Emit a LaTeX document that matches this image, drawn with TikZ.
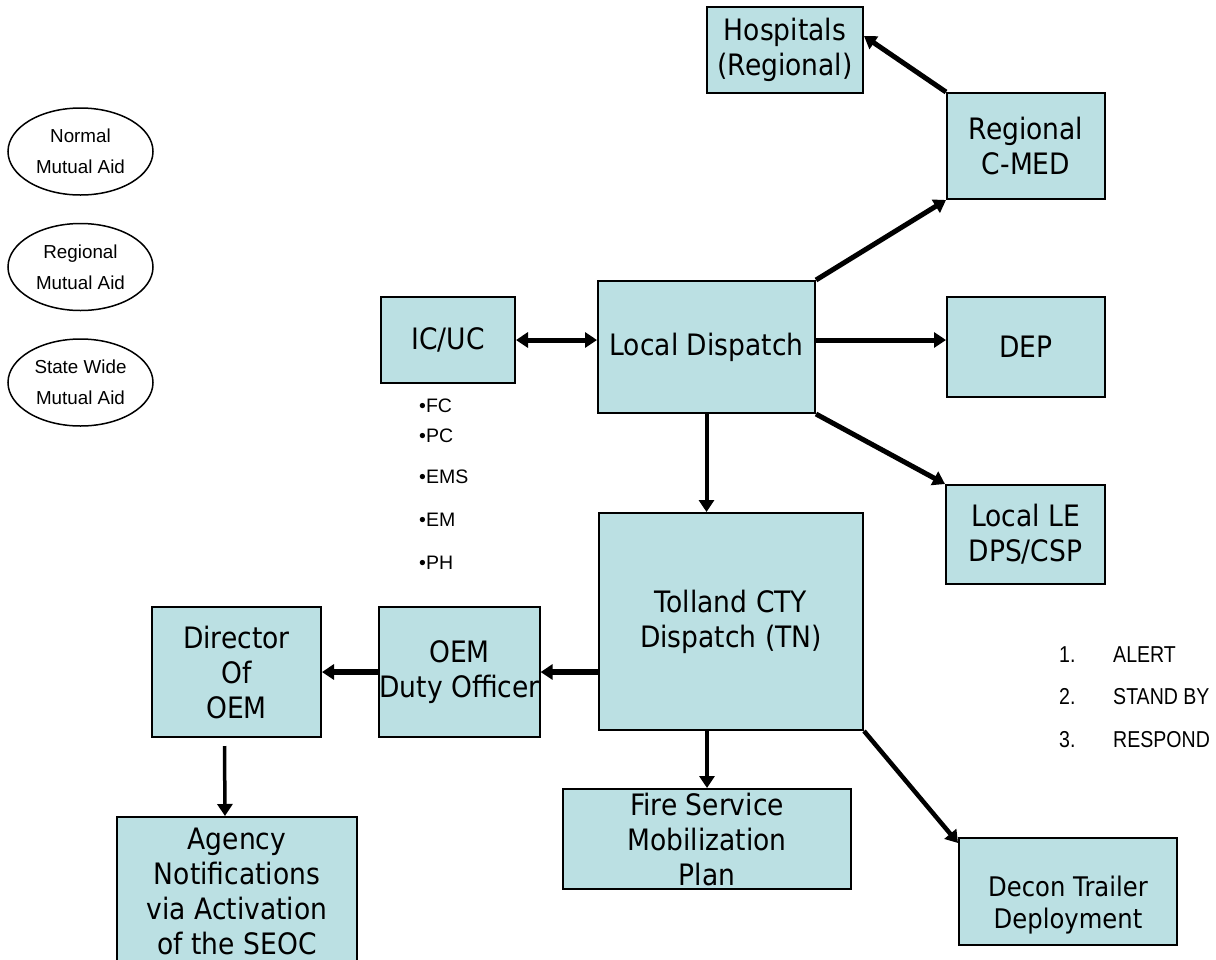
\documentclass[tikz,border=0pt]{standalone}
\usepackage{fontspec}
\setmainfont{Liberation Sans}
\newfontfamily\boxfont[FakeStretch=0.9]{DejaVu Sans}
\newfontfamily\narrowfont[FakeStretch=0.85]{Liberation Sans}
\usetikzlibrary{arrows.meta}
\usetikzlibrary{shapes.geometric}
\usetikzlibrary{positioning}
\definecolor{boxfill}{HTML}{BBE0E3}

\begin{document}
\begin{tikzpicture}[x=1pt, y=-1pt,
    box/.style={draw, line width=2pt, fill=boxfill, inner sep=0pt, align=center,
      font=\boxfont\fontsize{29.5}{35}\selectfont},
    aid/.style={draw, ellipse, line width=1.5pt, inner sep=0pt, minimum width=145pt,
      minimum height=87pt, align=center, font=\fontsize{18.8}{31}\selectfont},
    link/.style={line width=5pt, -{Triangle[length=12pt, width=15pt]}},
    listtext/.style={anchor=base west, inner sep=0pt, font=\narrowfont\fontsize{23}{28}\selectfont}]
  \clip (0,0) rectangle (1216,959);

  \node[aid] (normal)    at (80.5,151.5) {Normal\\Mutual Aid};
  \node[aid] (regional)  at (80.5,267)   {Regional\\Mutual Aid};
  \node[aid] (statewide) at (80.5,382.5) {State Wide\\Mutual Aid};

  \node[box, minimum width=156pt, minimum height=86pt]  (hosp)     at (785,50)       {Hospitals\\(Regional)};
  \node[box, minimum width=158pt, minimum height=106pt] (cmed)     at (1026,146)     {Regional\\C-MED};
  \node[box, minimum width=158pt, minimum height=100pt] (dep)      at (1026,347)     {DEP};
  \node[box, minimum width=217pt, minimum height=132pt] (ld)       at (706.5,347)    {Local Dispatch};
  \node[box, minimum width=134pt, minimum height=86pt]  (icuc)     at (448,340)      {IC/UC};
  \node[box, minimum width=159pt, minimum height=99pt]  (locle)    at (1025.5,534.5) {Local LE\\DPS/CSP};
  \node[box, minimum width=264pt, minimum height=217pt] (tolland)  at (731,621.5)    {Tolland CTY\\Dispatch (TN)};
  \node[box, minimum width=157pt, minimum height=130pt] (oem)      at (459.5,672)    {OEM\\Duty Officer};
  \node[box, minimum width=169pt, minimum height=130pt] (director) at (236.5,672)    {Director\\Of\\OEM};
  \node[box, minimum width=288pt, minimum height=100pt] (fire)     at (707,839)      {Fire Service\\Mobilization\\Plan};
  \node[box, minimum width=240pt, minimum height=148pt] (agency)   at (237,891)      {Agency\\Notifications\\via Activation\\of the SEOC};
  \node[box, minimum width=218pt, minimum height=107pt] (decon)    at (1068,891.5)   {};
  \node[align=center, inner sep=0pt, font=\boxfont\fontsize{27}{32}\selectfont] (decontext)
    at ([yshift=-14pt]decon.center) {Decon Trailer\\Deployment};

  \node[anchor=north west, inner sep=0pt, align=left, font=\fontsize{19.5}{30}\selectfont] (roles)
    at (419,399) {•FC\\•PC\\[11pt]•EMS\\[13pt]•EM\\[13pt]•PH};

  \foreach \t [count=\i] in {ALERT, STAND BY, RESPOND} {
    \node[listtext] (num\i)   at (1059, 619.5+42.5*\i) {\i.};
    \node[listtext] (level\i) at (1113, 619.5+42.5*\i) {\t};
  }

  \draw[link, {Triangle[length=12pt, width=15pt]}-{Triangle[length=12pt, width=15pt]}]
    (icuc.east) -- (ld.west |- icuc.east);
  \draw[link] ([yshift=7pt]ld.east) -- ([yshift=7pt]dep.west);
  \draw[link] (ld.north east) -- (cmed.south west);
  \draw[link] (cmed.north west) -- (hosp.10);
  \draw[link] (ld.south east) -- (locle.north west);
  \draw[link, line width=4pt] (ld.south) -- (ld.south |- tolland.north);
  \draw[link, line width=6pt] (tolland.west |- oem.east) -- (oem.east);
  \draw[link, line width=6pt] (oem.west) -- (director.east);
  \draw[link, line width=3.5pt] ([xshift=-12pt, yshift=-8pt]director.south) -- ([xshift=-12pt]agency.north);
  \draw[link, line width=3.5pt] (fire.north |- tolland.south) -- (fire.north);
  \draw[link, line width=4.5pt] (tolland.south east) -- ([yshift=-6pt]decon.north west);
\end{tikzpicture}
\end{document}
